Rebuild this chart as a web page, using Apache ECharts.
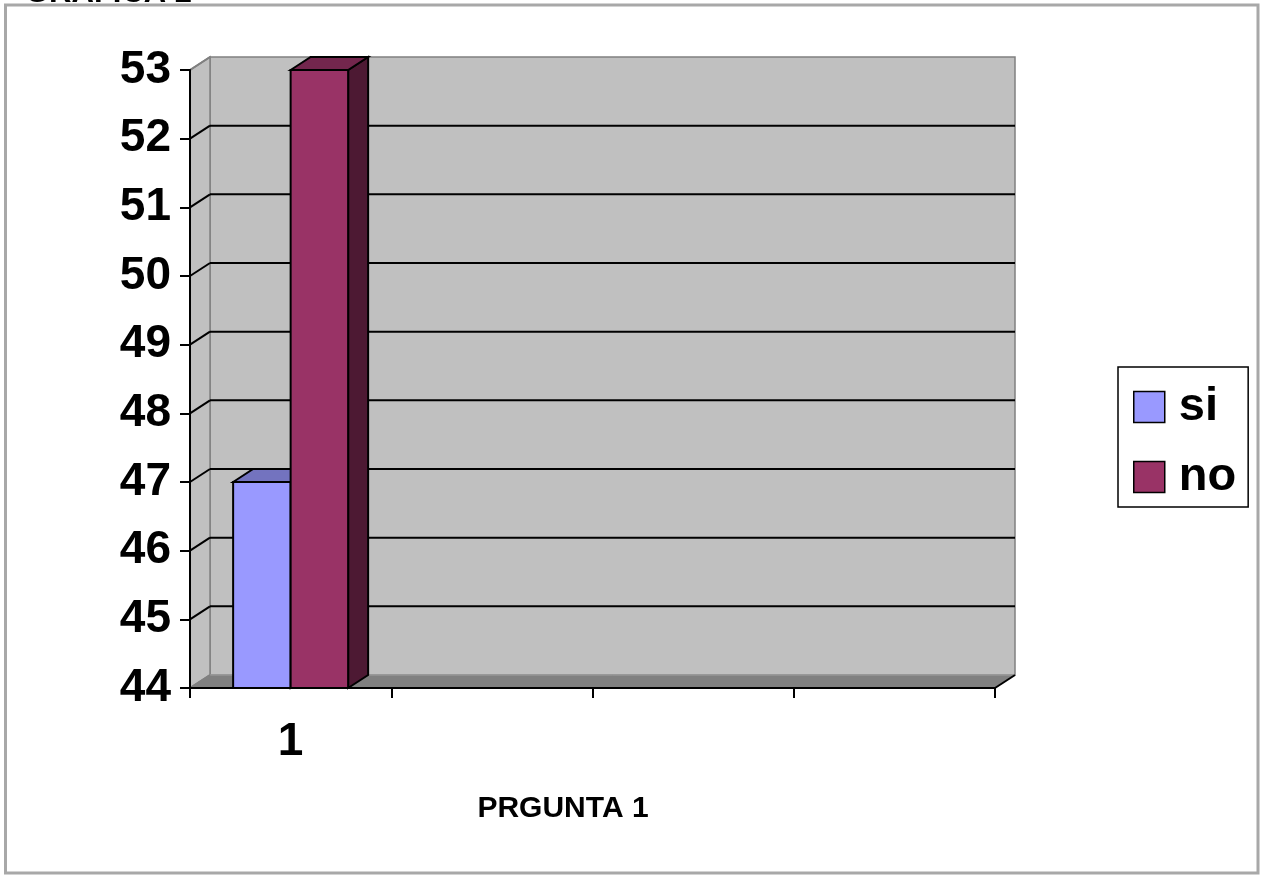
<!DOCTYPE html>
<html>
<head>
<meta charset="utf-8">
<script src="https://cdn.jsdelivr.net/npm/echarts@6/dist/echarts.min.js"></script>
<style>
html,body{margin:0;padding:0;background:#fff;}
#chart{width:1264px;height:875px;}
</style>
</head>
<body>
<div id="chart"></div>
<script>
// ---- data ----
const categories = ['1', '', '', ''];
const seriesNames = ['si', 'no'];
const siValues = [47];
const noValues = [53];
const yTickValues = [44, 45, 46, 47, 48, 49, 50, 51, 52, 53];
const axisTitle = 'PRGUNTA 1';
const chartTitle = 'GRAFICA 2';

// ---- styling constants ----
const FONT = '"Liberation Sans", Arial, sans-serif';
const DX = 20, DY = 13;
const yMin = yTickValues[0], yMax = yTickValues[yTickValues.length - 1];
const colors = {
  si: { front: '#9999FF', top: '#7373BF', side: '#4D4D80' },
  no: { front: '#993366', top: '#73264D', side: '#4D1933' }
};

function renderWalls(params, api) {
  const cs = params.coordSys;
  const x0 = cs.x, x1 = cs.x + cs.width, yT = cs.y, yB = cs.y + cs.height;
  return {
    type: 'group',
    children: [
      { type: 'polygon', shape: { points: [[x0 + DX, yT - DY], [x1 + DX, yT - DY], [x1 + DX, yB - DY], [x0 + DX, yB - DY]] },
        style: { fill: '#C0C0C0', stroke: '#808080', lineWidth: 1.5 } },
      { type: 'polygon', shape: { points: [[x0, yB], [x0, yT], [x0 + DX, yT - DY], [x0 + DX, yB - DY]] },
        style: { fill: '#C0C0C0', stroke: '#808080', lineWidth: 1.5 } },
      { type: 'polygon', shape: { points: [[x0, yB], [x1, yB], [x1 + DX, yB - DY], [x0 + DX, yB - DY]] },
        style: { fill: '#808080', stroke: '#A0A0A0', lineWidth: 1 } },
      { type: 'line', shape: { x1: x1, y1: yB, x2: x1 + DX, y2: yB - DY },
        style: { stroke: '#000', lineWidth: 2 } }
    ]
  };
}

function renderFrame(params, api) {
  const cs = params.coordSys;
  const v = api.value(1);
  const p = api.coord([0, v]);
  const y = p[1];
  const edge = (v === yMin || v === yMax);
  const children = [
    { type: 'line', shape: { x1: cs.x, y1: y, x2: cs.x + DX, y2: y - DY },
      style: { stroke: edge ? '#808080' : '#000', lineWidth: 2 } }
  ];
  if (!edge) {
    children.push({ type: 'line', shape: { x1: cs.x + DX, y1: y - DY, x2: cs.x + cs.width + DX, y2: y - DY },
      style: { stroke: '#000', lineWidth: 2 } });
  }
  return { type: 'group', children: children };
}

function makeBarRenderer(side, c) {
  return function (params, api) {
    const cat = api.value(0), val = api.value(1);
    const top = api.coord([cat, val]);
    const base = api.coord([cat, yMin]);
    const band = api.size([1, 0])[0];
    const w = band / 3.5;
    const xl = top[0] + side * w;
    const ty = top[1], by = base[1];
    const st = { stroke: '#000', lineWidth: 2, lineJoin: 'miter' };
    return {
      type: 'group',
      children: [
        { type: 'polygon', shape: { points: [[xl + w, ty], [xl + w + DX, ty - DY], [xl + w + DX, by - DY], [xl + w, by]] },
          style: Object.assign({ fill: c.side }, st) },
        { type: 'polygon', shape: { points: [[xl, ty], [xl + DX, ty - DY], [xl + w + DX, ty - DY], [xl + w, ty]] },
          style: Object.assign({ fill: c.top }, st) },
        { type: 'rect', shape: { x: xl, y: ty, width: w, height: by - ty },
          style: Object.assign({ fill: c.front }, st) }
      ]
    };
  };
}

const chart = echarts.init(document.getElementById('chart'));
chart.setOption({
  backgroundColor: '#fff',
  animation: false,
  grid: { left: 190, top: 70, width: 805, height: 618, containLabel: false },
  xAxis: {
    type: 'category',
    data: categories,
    z: 5,
    axisLine: { show: true, lineStyle: { color: '#000', width: 2 } },
    axisTick: { show: true, length: 10, lineStyle: { color: '#000', width: 2 } },
    axisLabel: { fontSize: 46, fontWeight: 'bold', color: '#000', fontFamily: FONT, margin: 31 },
    splitLine: { show: false }
  },
  yAxis: {
    type: 'value',
    min: yMin, max: yMax, interval: 1,
    z: 5,
    axisLine: { show: true, lineStyle: { color: '#000', width: 2 } },
    axisTick: { show: true, length: 10, lineStyle: { color: '#000', width: 2 } },
    axisLabel: { fontSize: 46, fontWeight: 'bold', color: '#000', fontFamily: FONT, margin: 19 },
    splitLine: { show: false }
  },
  legend: {
    orient: 'vertical',
    left: 1118, top: 367,
    data: seriesNames,
    icon: 'rect',
    itemWidth: 31, itemHeight: 31, itemGap: 20,
    borderColor: '#000', borderWidth: 1.5,
    padding: [15, 12, 5, 15],
    itemStyle: { borderColor: '#000', borderWidth: 1.5 },
    textStyle: { fontSize: 47, fontWeight: 'bold', color: '#000', fontFamily: FONT, lineHeight: 50, padding: [0, 0, 0, 9] }
  },
  graphic: [
    { type: 'rect', z: 100, silent: true, shape: { x: 5.5, y: 5, width: 1252.5, height: 868 },
      style: { fill: 'none', stroke: '#A8A8A8', lineWidth: 3 } },
    { type: 'text', z: 101, silent: true,
      style: { text: chartTitle, x: 25, y: -7, align: 'left', verticalAlign: 'middle', font: 'bold 31px ' + FONT, fill: '#000' } },
    { type: 'text', z: 101, silent: true,
      style: { text: axisTitle, x: 563, y: 809, align: 'center', verticalAlign: 'middle', font: 'bold 30px ' + FONT, fill: '#000' } }
  ],
  series: [
    { type: 'custom', name: 'walls', z: 1, clip: false, silent: true,
      renderItem: renderWalls, data: [[0, yMin]] },
    { type: 'custom', name: 'frame', z: 1.5, clip: false, silent: true,
      renderItem: renderFrame, data: yTickValues.map(v => [0, v]) },
    { type: 'custom', name: seriesNames[0], z: 6, clip: false,
      itemStyle: { color: colors.si.front },
      renderItem: makeBarRenderer(-1, colors.si),
      data: siValues.map((v, i) => [i, v]) },
    { type: 'custom', name: seriesNames[1], z: 6, clip: false,
      itemStyle: { color: colors.no.front },
      renderItem: makeBarRenderer(0, colors.no),
      data: noValues.map((v, i) => [i, v]) }
  ]
});
</script>
</body>
</html>
